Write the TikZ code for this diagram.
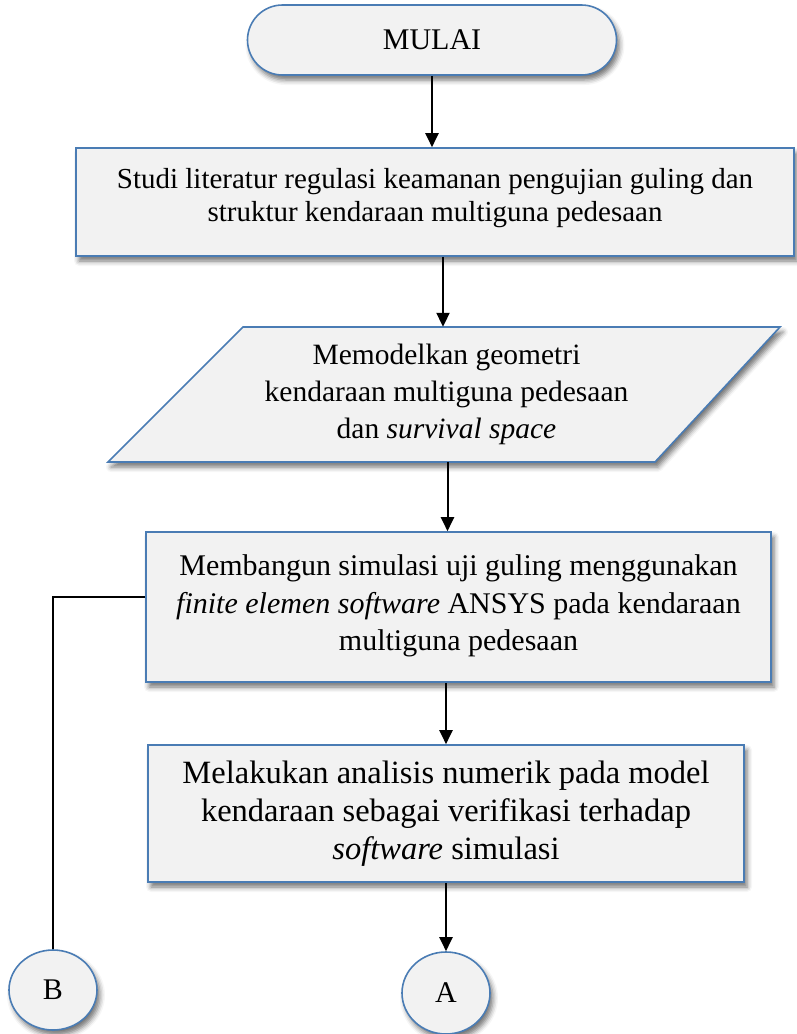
\documentclass[tikz,border=0pt]{standalone}
\usepackage{fontspec}
\setmainfont{Liberation Serif}
\usetikzlibrary{shapes.misc,shapes.geometric,shadows.blur,arrows.meta,calc}
\definecolor{edgeblue}{RGB}{74,124,180}
\definecolor{boxfill}{RGB}{242,242,242}
\begin{document}
\begin{tikzpicture}[x=1pt,y=-1pt,
  shade/.style={blur shadow={shadow xshift=3pt,shadow yshift=-5pt,shadow blur radius=5pt,shadow opacity=55}},
  flowbox/.style={draw=edgeblue,line width=1.6pt,fill=boxfill,shade,align=center,inner sep=0pt},
  conn/.style={line width=2pt,draw=black},
  arr/.style={conn,-{Triangle[width=13pt,length=14pt]}}]
\useasboundingbox (0,0) rectangle (796,1034);

% start terminal
\node[flowbox,rounded rectangle,minimum width=369pt,minimum height=70pt,
  font=\fontsize{30}{36}\selectfont] (mulai) at (432,40) {MULAI};

% literature study
\node[flowbox,rectangle,minimum width=718pt,minimum height=108pt,
  font=\fontsize{29}{33}\selectfont] (studi) at (435,202)
  {Studi literatur regulasi keamanan pengujian guling dan\\
   struktur kendaraan multiguna pedesaan\\[-18pt]\mbox{}};

% geometry modelling (parallelogram)
\path[draw=edgeblue,line width=1.6pt,fill=boxfill,shade]
  (243,327) -- (780,327) -- (655,462) -- (108,462) -- cycle;
\node[rectangle,minimum width=412pt,minimum height=135pt,inner sep=0pt,
  align=center,font=\fontsize{29.5}{37}\selectfont] (model) at (446.5,394.5)
  {Memodelkan geometri\\ kendaraan multiguna pedesaan\\ dan \textit{survival space}};

% simulation set-up
\node[flowbox,rectangle,minimum width=625pt,minimum height=150pt,
  font=\fontsize{30}{37.5}\selectfont] (simulasi) at (458.5,607)
  {Membangun simulasi uji guling menggunakan\\
   \textit{finite elemen software} ANSYS pada kendaraan\\
   multiguna pedesaan\\[-29pt]\mbox{}};

% numerical analysis
\node[flowbox,rectangle,minimum width=596pt,minimum height=137pt,
  font=\fontsize{32.5}{38}\selectfont] (analisis) at (446,813.5)
  {Melakukan analisis numerik pada model\\
   kendaraan sebagai verifikasi terhadap\\
   \textit{software} simulasi};

% off-page connectors
\node[flowbox,ellipse,minimum width=88pt,minimum height=80pt,
  font=\fontsize{30}{36}\selectfont] (B) at (53,990) {B};
\node[flowbox,ellipse,minimum width=88pt,minimum height=82pt,
  font=\fontsize{30}{36}\selectfont] (A) at (446,993) {A};

% connectors
\draw[arr] (mulai.south) -- (mulai.south |- studi.north);
\draw[arr] ([xshift=-3.5pt]model.north |- studi.south) -- ([xshift=-3.5pt]model.north);
\draw[arr] ([xshift=1pt]model.south) -- ([xshift=1pt]model.south |- simulasi.north);
\draw[arr] (analisis.north |- simulasi.south) -- (analisis.north);
\draw[arr] (A.north |- analisis.south) -- (A.north);
\draw[conn] ([yshift=10pt]simulasi.west) -| (B.north);
\end{tikzpicture}
\end{document}
